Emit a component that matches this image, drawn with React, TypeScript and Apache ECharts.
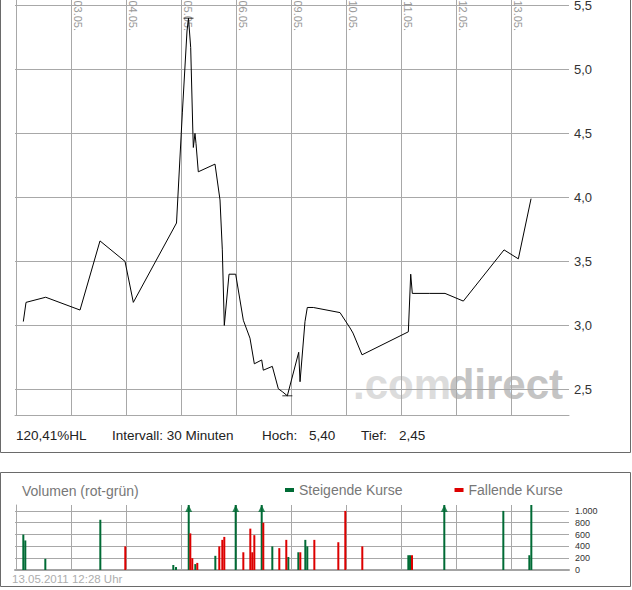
import React, { useEffect, useRef } from 'react';
import * as echarts from 'echarts';

// trading days shown on the time axis
const days = ['02.05.', '03.05.', '04.05.', '05.05.', '06.05.', '09.05.', '10.05.', '11.05.', '12.05.', '13.05.'];
const dayTicks = [1, 2, 3, 4, 5, 6, 7, 8, 9];

// price: time in trading-day units (0 = start of 02.05.), price in EUR
const priceT = [0.124, 0.173, 0.531, 1.155, 1.518, 1.973, 2.124, 2.909, 3.015, 3.1, 3.127, 3.167, 3.204, 3.215, 3.245, 3.264, 3.305, 3.609, 3.7, 3.742, 3.778, 3.864, 3.985, 4.124, 4.245, 4.324, 4.458, 4.487, 4.651, 4.76, 4.84, 4.924, 5.131, 5.155, 5.245, 5.287, 5.396, 5.882, 6.064, 6.118, 6.282, 7.124, 7.167, 7.196, 7.505, 7.791, 8.124, 8.864, 9.124, 9.355];
const priceV = [3.03, 3.18, 3.22, 3.12, 3.66, 3.5, 3.18, 3.8, 4.66, 5.3, 5.4, 5.17, 4.55, 4.39, 4.5, 4.42, 4.2, 4.26, 3.98, 3.59, 3.0, 3.4, 3.4, 3.04, 2.9, 2.7, 2.73, 2.65, 2.68, 2.505, 2.48, 2.45, 2.79, 2.56, 3.03, 3.14, 3.14, 3.1, 2.98, 2.94, 2.77, 2.95, 3.4, 3.25, 3.25, 3.25, 3.19, 3.59, 3.52, 3.99];
const priceTicks = [2.5, 3, 3.5, 4, 4.5, 5, 5.5];

// volume: time, pieces, direction (1 = rising, -1 = falling)
const volT = [0.124, 0.16, 0.524, 1.524, 1.978, 2.851, 2.9, 3.131, 3.16, 3.196, 3.251, 3.287, 3.615, 3.687, 3.742, 3.778, 3.985, 4.124, 4.251, 4.287, 4.324, 4.458, 4.487, 4.651, 4.778, 4.905, 4.942, 5.124, 5.16, 5.251, 5.287, 5.415, 5.851, 5.978, 6.287, 7.124, 7.155, 7.191, 7.778, 8.851, 9.324, 9.36];
const volV = [600, 500, 190, 850, 400, 85, 50, 1500, 620, 200, 100, 120, 240, 400, 510, 560, 1300, 300, 700, 300, 590, 1400, 800, 400, 370, 510, 220, 300, 300, 510, 400, 510, 470, 1000, 400, 250, 250, 250, 1200, 1000, 250, 1100];
const volDir = [1, 1, 1, 1, -1, 1, 1, 1, -1, -1, 1, -1, 1, -1, -1, -1, 1, -1, -1, -1, -1, 1, -1, 1, -1, -1, 1, 1, -1, 1, 1, -1, -1, -1, -1, 1, 1, -1, 1, 1, 1, 1];
const volTicks = [0, 200, 400, 600, 800, 1000];

const GRID = '#a8a8a8';
const FONT = '"Liberation Sans", Arial, Helvetica, sans-serif';
const GREEN = '#006b35';
const RED = '#dd0000';
const X_MIN = -0.0273;
const X_MAX = 10.045;
const LABEL_SHIFT = 0.115; // date labels sit just right of their day line
const P_MIN = 2.3;
const P_MAX = 5.6;
const VOL_MAX = 1100;

const comma = (v: number, d: number) => v.toFixed(d).replace('.', ',');
const thousands = (v: number) =>
  v >= 1000 ? Math.floor(v / 1000) + '.' + String(v % 1000).padStart(3, '0') : String(v);

export default function App() {
  const ref = useRef<HTMLDivElement>(null);

  useEffect(() => {
    const chart = echarts.init(ref.current!, null, { renderer: 'svg' });

    const hi = Math.max(...priceV);
    const lo = Math.min(...priceV);
    const hiIdx = priceV.indexOf(hi);
    const loIdx = priceV.indexOf(lo);
    const spread = ((hi - lo) / lo) * 100;

    const pricePts = priceT.map((t, i) => [t, priceV[i]]);
    const upPts = volT.map((t, i) => [t, volV[i], volDir[i]]).filter((p) => p[2] > 0).map((p) => [p[0], p[1]]);
    const downPts = volT.map((t, i) => [t, volV[i], volDir[i]]).filter((p) => p[2] < 0).map((p) => [p[0], p[1]]);
    const overflow = volT
      .map((t, i) => ({ t, v: volV[i], d: volDir[i] }))
      .filter((p) => p.v > VOL_MAX)
      .map((p) => ({ value: [p.t, VOL_MAX], itemStyle: { color: p.d > 0 ? GREEN : RED } }));

    const gridTop = 415 - (P_MAX - P_MIN) * 128;
    const textStyle = (extra: any) => ({ fontFamily: FONT, ...extra });

    chart.setOption({
      animation: false,
      backgroundColor: '#ffffff',
      grid: [
        { left: 15, top: gridTop, width: 554, height: (P_MAX - P_MIN) * 128, outerBoundsMode: 'none', containLabel: false },
        { left: 15, top: 505, width: 554, height: 65, outerBoundsMode: 'none', containLabel: false },
      ],
      xAxis: [
        {
          type: 'value', gridIndex: 0, position: 'top', min: X_MIN, max: X_MAX,
          axisLine: { show: false },
          axisTick: { show: false, customValues: dayTicks },
          axisLabel: { show: false },
          splitLine: { show: true, lineStyle: { color: GRID, width: 1 } },
        },
        {
          type: 'value', gridIndex: 0, position: 'bottom', min: X_MIN, max: X_MAX,
          axisLine: { show: true, lineStyle: { color: GRID, width: 1 } },
          axisTick: { show: false }, axisLabel: { show: false }, splitLine: { show: false },
        },
        {
          type: 'value', gridIndex: 1, position: 'bottom', min: X_MIN, max: X_MAX,
          axisLine: { show: true, lineStyle: { color: '#a4a4a4', width: 2 } },
          axisTick: { show: false, customValues: dayTicks },
          axisLabel: { show: false },
          splitLine: { show: true, lineStyle: { color: GRID, width: 1 } },
        },
        {
          // date labels: vertical, reading upwards, hanging from the top of the plot
          type: 'value', gridIndex: 0, position: 'top', offset: -(33 - gridTop),
          min: X_MIN - LABEL_SHIFT, max: X_MAX - LABEL_SHIFT,
          axisLine: { show: false },
          axisTick: { show: false, customValues: dayTicks },
          axisLabel: {
            customValues: dayTicks, rotate: 90, margin: 2,
            color: '#999999', fontSize: 11, fontFamily: FONT,
            formatter: (v: number) => days[Math.round(v)],
          },
          splitLine: { show: false },
        },
      ],
      yAxis: [
        {
          type: 'value', gridIndex: 0, position: 'right', min: P_MIN, max: P_MAX,
          axisLine: { show: true, lineStyle: { color: GRID, width: 1 } },
          axisTick: { show: false, customValues: priceTicks },
          axisLabel: {
            customValues: priceTicks, margin: 5, color: '#333333', fontSize: 13, fontFamily: FONT,
            formatter: (v: number) => comma(v, 1),
          },
          splitLine: { show: true, lineStyle: { color: GRID, width: 1 } },
        },
        {
          type: 'value', gridIndex: 1, position: 'right', min: 0, max: VOL_MAX,
          axisLine: { show: true, lineStyle: { color: GRID, width: 1 } },
          axisTick: { show: false, customValues: volTicks },
          axisLabel: {
            customValues: volTicks, margin: 6, color: '#333333', fontSize: 9, fontFamily: FONT,
            formatter: (v: number) => thousands(v),
          },
          splitLine: { show: true, lineStyle: { color: GRID, width: 1 } },
        },
      ],
      legend: {
        data: ['Steigende Kurse', 'Fallende Kurse'],
        left: 285, top: 483, padding: 0,
        icon: 'rect', itemWidth: 9, itemHeight: 4, itemGap: 52,
        selectedMode: false,
        textStyle: { color: '#777777', fontSize: 14, fontFamily: FONT },
      },
      graphic: [
        {
          type: 'text', x: 353, y: 384, z: -10, silent: true,
          style: textStyle({ text: '.com', fill: '#dcdcdc', fontSize: 42, fontWeight: 'bold', align: 'left', verticalAlign: 'middle' }),
        },
        {
          type: 'text', x: 563, y: 384, z: -10, silent: true,
          style: textStyle({ text: 'direct', fill: '#c4c4c4', fontSize: 42, fontWeight: 'bold', align: 'right', verticalAlign: 'middle' }),
        },
        { type: 'rect', shape: { x: 0.5, y: -5, width: 630, height: 457.5 }, style: { fill: 'none', stroke: '#6a6a6a', lineWidth: 1 }, silent: true },
        { type: 'rect', shape: { x: 0.5, y: 472.5, width: 630, height: 114 }, style: { fill: 'none', stroke: '#6a6a6a', lineWidth: 1 }, silent: true },
        { type: 'text', x: 16, y: 435, style: textStyle({ text: comma(spread, 2) + '%HL', fill: '#222222', fontSize: 13.5, verticalAlign: 'middle' }) },
        { type: 'text', x: 112, y: 435, style: textStyle({ text: 'Intervall: 30 Minuten', fill: '#222222', fontSize: 13.5, verticalAlign: 'middle' }) },
        { type: 'text', x: 262, y: 435, style: textStyle({ text: 'Hoch:', fill: '#222222', fontSize: 13.5, verticalAlign: 'middle' }) },
        { type: 'text', x: 309, y: 435, style: textStyle({ text: comma(hi, 2), fill: '#222222', fontSize: 13.5, verticalAlign: 'middle' }) },
        { type: 'text', x: 361, y: 435, style: textStyle({ text: 'Tief:', fill: '#222222', fontSize: 13.5, verticalAlign: 'middle' }) },
        { type: 'text', x: 399, y: 435, style: textStyle({ text: comma(lo, 2), fill: '#222222', fontSize: 13.5, verticalAlign: 'middle' }) },
        { type: 'text', x: 22, y: 491, style: textStyle({ text: 'Volumen (rot-grün)', fill: '#777777', fontSize: 14, verticalAlign: 'middle' }) },
        { type: 'text', x: 12, y: 579, style: textStyle({ text: '13.05.2011 12:28 Uhr', fill: '#adadad', fontSize: 11.5, verticalAlign: 'middle' }) },
      ],
      series: [
        {
          type: 'line', name: 'Kurs', xAxisIndex: 0, yAxisIndex: 0, data: pricePts,
          symbol: 'none', showSymbol: false, lineStyle: { color: '#000000', width: 1 }, z: 5,
        },
        {
          type: 'scatter', name: 'HL', xAxisIndex: 0, yAxisIndex: 0,
          data: [[priceT[hiIdx], hi], [priceT[loIdx], lo]],
          symbol: 'rect', symbolSize: [10, 1], itemStyle: { color: '#000000' }, z: 6,
        },
        {
          type: 'bar', name: 'Steigende Kurse', xAxisIndex: 2, yAxisIndex: 1, data: upPts,
          barWidth: 2, barGap: '-100%', itemStyle: { color: GREEN },
        },
        {
          type: 'bar', name: 'Fallende Kurse', xAxisIndex: 2, yAxisIndex: 1, data: downPts,
          barWidth: 2, barGap: '-100%', itemStyle: { color: RED },
        },
        {
          type: 'scatter', name: 'Überlauf', xAxisIndex: 2, yAxisIndex: 1, data: overflow,
          symbol: 'triangle', symbolSize: [7, 7], symbolOffset: [0, 3.5], z: 6,
        },
      ],
    });

    return () => chart.dispose();
  }, []);

  return (
    <div
      ref={ref}
      style={{ position: 'fixed', left: 0, top: 0, width: 632, height: 590, background: '#ffffff' }}
    />
  );
}
